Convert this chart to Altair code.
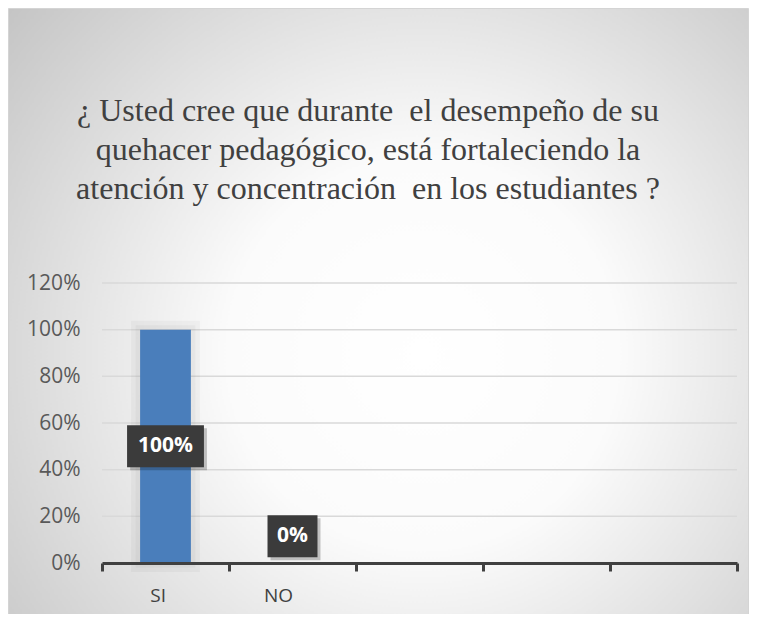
import altair as alt
import pandas as pd

categories = ["SI", "NO", "c3", "c4", "c5"]
shown = ["SI", "NO"]
values = [1.0, 0.0]
labels = ["100%", "0%"]
label_pos = [0.5, 0.115]
y_ticks = [0, 0.2, 0.4, 0.6, 0.8, 1.0, 1.2]
title_text = ("¿ Usted cree que durante \u00a0el desempeño de su\n"
              "quehacer pedagógico, está fortaleciendo la\n"
              "atención y concentración \u00a0en los estudiantes ?")

df = pd.DataFrame({"cat": shown, "value": values, "label": labels, "pos": label_pos})
grid_df = pd.DataFrame({"t": y_ticks})

W, H = 635, 280
PL, PT, PR, PB = 94, 275, 12, 51

xscale = alt.Scale(domain=categories, paddingInner=0, paddingOuter=0)
yscale = alt.Scale(domain=[0, 1.2])

bg = alt.Chart(pd.DataFrame({"k": [0]})).mark_rect(
    fill={"gradient": "radial", "x1": 0.56, "y1": 0.55, "r1": 0,
          "x2": 0.56, "y2": 0.55, "r2": 0.75,
          "stops": [{"offset": 0, "color": "#ffffff"},
                    {"offset": 0.35, "color": "#fbfbfb"},
                    {"offset": 1, "color": "#c2c2c2"}]},
    stroke="#d4d4d4", strokeWidth=1,
).encode(x=alt.value(-PL + 0.5), x2=alt.value(W + PR - 0.5),
         y=alt.value(-PT + 0.5), y2=alt.value(H + PB + 10))

title = alt.Chart(pd.DataFrame({"t": [title_text]})).mark_text(
    font="Liberation Serif", fontSize=32, color="#404040", lineBreak="\n",
    lineHeight=39, align="center", baseline="alphabetic",
).encode(x=alt.value(266), y=alt.value(-162), text="t:N")

grid = alt.Chart(grid_df).mark_rule(color="#d9d9d9", strokeWidth=1.5).encode(
    y=alt.Y("t:Q", scale=yscale), x=alt.value(0), x2=alt.value(W))

bw = alt.RelativeBandSize(0.4)

glow = alt.Chart(df).transform_filter("datum.value > 0").mark_bar(
    width=bw, fillOpacity=0.0, stroke="#000000", strokeOpacity=0.03, strokeWidth=18,
).encode(x=alt.X("cat:N", scale=xscale), y=alt.Y("value:Q", scale=yscale))

glow2 = alt.Chart(df).transform_filter("datum.value > 0").mark_bar(
    width=bw, fillOpacity=0.0, stroke="#000000", strokeOpacity=0.03, strokeWidth=9,
).encode(x=alt.X("cat:N", scale=xscale), y=alt.Y("value:Q", scale=yscale))

bars = alt.Chart(df).mark_bar(width=bw, color="#4a7ebb").encode(
    x=alt.X("cat:N", scale=xscale, title=None,
            axis=alt.Axis(labelExpr="indexof(['SI','NO'], datum.value) >= 0 ? datum.value : ''",
                          domainColor="#404040", domainWidth=3, tickColor="#404040",
                          tickWidth=3, tickSize=8, tickBand="extent", labelAngle=0,
                          labelFont="Open Sans", labelFontSize=19, labelColor="#404040",
                          labelPadding=24, zindex=1)),
    y=alt.Y("value:Q", scale=yscale, title=None,
            axis=alt.Axis(values=y_ticks, format=".0%", domain=False, ticks=False,
                          grid=False, labelFont="Open Sans",
                          labelFontSize=21, labelColor="#595959", labelPadding=22,
                          zindex=1)),
)

box_paths = ["M-1.83,-1L1.83,-1L1.83,1L-1.83,1Z", "M-1.19,-1L1.19,-1L1.19,1L-1.19,1Z"]
shape_scale = alt.Scale(domain=labels, range=box_paths)

shadow = alt.Chart(df).mark_point(filled=True, size=1764, color="#000000", opacity=0.22,
                                  xOffset=3, yOffset=3).encode(
    x=alt.X("cat:N", scale=xscale), y=alt.Y("pos:Q", scale=yscale),
    shape=alt.Shape("label:N", scale=shape_scale, legend=None))

boxes = alt.Chart(df).mark_point(filled=True, size=1764, color="#3b3b3b", opacity=1).encode(
    x=alt.X("cat:N", scale=xscale), y=alt.Y("pos:Q", scale=yscale),
    shape=alt.Shape("label:N", scale=shape_scale, legend=None))

texts = alt.Chart(df).mark_text(font="Open Sans", fontWeight="bold", fontSize=21,
                                color="#ffffff", baseline="middle").encode(
    x=alt.X("cat:N", scale=xscale), y=alt.Y("pos:Q", scale=yscale), text="label:N")

chart = alt.layer(bg, title, grid, glow, glow2, bars, shadow, boxes, texts).properties(
    width=W, height=H,
    autosize=alt.AutoSizeParams(type="none"),
    padding={"left": PL, "top": PT, "right": PR, "bottom": PB},
    background="white",
).configure_view(stroke=None)

chart.save("out.html", embed_options={"renderer": "svg", "actions": False})
